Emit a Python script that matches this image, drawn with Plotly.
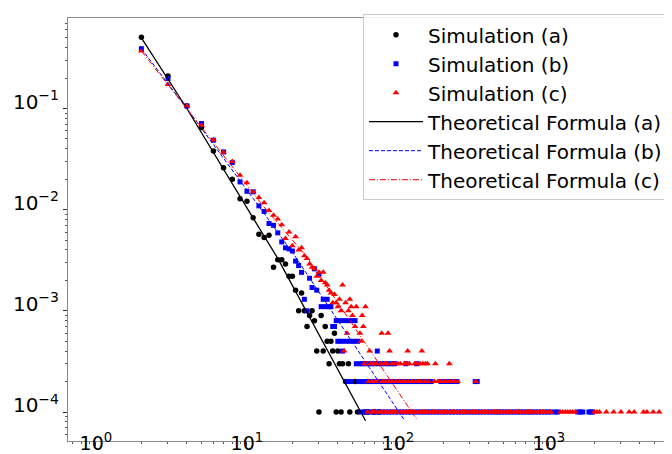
import plotly.graph_objects as go

# ---------------- data ----------------
# Simulation (a): explicit (k, P) pairs
a_k = [2, 3, 4, 5, 6, 7, 8, 9, 10, 11, 12, 13, 14, 15, 16, 17, 18, 19, 20, 21, 22, 23,
       24, 25, 26, 27, 28, 29, 30, 31, 32, 33, 34, 35, 36, 37, 38, 39, 40, 41, 42, 43,
       45, 47, 48, 52, 54, 60, 63, 70, 75]
a_p = [0.505, 0.209, 0.106, 0.065, 0.038, 0.026, 0.020, 0.0128, 0.0121, 0.0083, 0.0057,
       0.0053, 0.0056, 0.0027, 0.0032, 0.0032, 0.0029, 0.0022, 0.0022, 0.0016, 0.0010,
       0.0015, 0.0010, 0.0007, 0.0009, 0.0010, 0.0008, 0.0004, 0.0001, 0.0009, 0.0004,
       0.0007, 0.0005, 0.0003, 0.0005, 0.0004, 0.0006, 0.0001, 0.0004, 0.0003, 0.0001,
       0.0003, 0.0002, 0.0003, 0.0001, 0.0002, 0.0001, 0.0001, 0.0001, 0.0001, 0.0001]

# Simulation (b): head pairs + rows of k at constant P
b_head_k = [2, 3, 4, 5, 6, 7, 8, 9, 10, 11, 12, 13, 14, 15, 16, 17, 18, 19, 20, 21, 22,
            23, 24, 25, 26, 27, 28, 29, 30]
b_head_p = [0.39, 0.198, 0.106, 0.071, 0.0486, 0.0372, 0.0292, 0.0188, 0.0152, 0.0150,
            0.0109, 0.0096, 0.0073, 0.0070, 0.0059, 0.0048, 0.0042, 0.0041, 0.0039, 0.0031,
            0.0028, 0.0024, 0.0013, 0.0010, 0.0021, 0.0017, 0.0026, 0.0016, 0.0023]
b_rows_p = [0.0013, 0.0011, 0.0008, 0.0007, 0.0005, 0.0004, 0.0003, 0.0002, 0.0001]
b_row_13 = [32, 34]
b_row_11 = [31, 33, 35, 36]
b_row_8 = [39, 41, 44, 47, 50, 52]
b_row_7 = [37, 38]
b_row_5 = [40, 42, 45, 48, 51, 54]
b_row_4 = [43, 73]
b_row_3 = [53, 56, 58, 61, 64, 67, 70, 74, 78, 82, 86, 90, 95, 113, 133]
b_row_2 = [46, 49, 55, 59, 62, 65, 68, 72, 76, 80, 85, 89, 93, 98, 103, 108, 114, 120,
           127, 134, 141, 149, 157, 166, 193, 205, 218, 232, 246, 325, 335]
b_row_1 = [57, 60, 63, 66, 69, 71, 75, 79, 83, 87, 91, 96, 101, 106, 111, 117, 122, 128,
           135, 142, 148, 156, 163, 171, 180, 188, 198, 207, 218, 228, 240, 252, 264, 277,
           291, 305, 320, 336, 352, 369, 388, 407, 427, 446, 463, 485, 509, 534, 560, 588,
           617, 647, 679, 712, 747, 770, 810, 850, 892, 936, 982, 1030, 1100, 1143, 1552,
           1612, 1675, 1840, 1900, 1950]

# Simulation (c)
c_head_k = [2, 3, 4, 5, 6, 7, 8, 9, 10, 11, 12, 13, 14, 15, 16, 17, 18, 19, 20, 21, 22,
            23, 24, 25, 26, 27, 28, 29, 30, 31, 32, 33, 34, 35, 36, 37, 38, 39, 40, 41, 42,
            43, 45, 47, 48, 49, 53, 61]
c_head_p = [0.37, 0.173, 0.106, 0.068, 0.049, 0.037, 0.030, 0.0219, 0.0184, 0.0150, 0.0132,
            0.0117, 0.0098, 0.0088, 0.0081, 0.0071, 0.0052, 0.0060, 0.0044, 0.0054, 0.0040,
            0.0042, 0.0035, 0.0033, 0.0029, 0.0027, 0.0026, 0.0022, 0.0024, 0.0020, 0.0024,
            0.0019, 0.0018, 0.0016, 0.0015, 0.0012, 0.00145, 0.0012, 0.0011, 0.0013, 0.0010,
            0.0018, 0.0012, 0.0010, 0.0013, 0.0011, 0.0011, 0.0011]
c_rows_p = [0.0009, 0.0007, 0.0006, 0.0005, 0.0004, 0.0003, 0.0002, 0.0001]
c_row_9 = [50, 58]
c_row_7 = [52, 59]
c_row_6 = [46, 56, 78, 86]
c_row_5 = [57]
c_row_4 = [44, 65, 88, 116, 144]
c_row_3 = [60, 62, 66, 69, 72, 77, 81, 84, 91, 96, 100, 104, 111, 115, 119, 129, 134, 140,
           146, 152, 157, 177, 219]
c_row_2 = [64, 67, 71, 74, 79, 83, 87, 92, 97, 102, 107, 112, 118, 124, 131, 137, 143, 151,
           159, 175, 184, 193, 203, 213, 224, 236, 248, 328]
c_row_1 = [63, 68, 70, 73, 76, 80, 82, 85, 89, 93, 95, 99, 103, 106, 109, 113, 117, 121, 125,
           130, 135, 139, 145, 150, 156, 162, 169, 175, 182, 189, 196, 204, 212, 220, 229,
           237, 247, 256, 266, 277, 287, 298, 310, 322, 334, 347, 361, 375, 390, 405, 421,
           437, 446, 463, 481, 500, 519, 539, 560, 582, 605, 628, 653, 678, 705, 733, 760,
           770, 810, 841, 874, 908, 943, 980, 1018, 1030, 1188, 1234, 1282, 1332, 1384, 1438,
           1494, 2000, 2080, 2160, 2400, 2680, 3000, 3400, 3670, 4230, 4450, 4900, 5370]

# Theoretical formula curves
ta_k = [2, 4, 10, 16, 61]
ta_p = [0.5, 0.1, 0.0104, 0.0033, 8.2e-5]
tb_k = [2, 4, 12, 21, 111]
tb_p = [0.39, 0.1, 0.0108, 0.0034, 8.2e-5]
tc_k = [2, 4, 13, 25, 135]
tc_p = [0.37, 0.1, 0.0106, 0.0034, 8.2e-5]

x_tick_vals = [1, 10, 100, 1000]
x_tick_text = ["10<sup>0</sup>", "10<sup>1</sup>", "10<sup>2</sup>", "10<sup>3</sup>"]
y_tick_vals = [1e-4, 1e-3, 1e-2, 1e-1]
y_tick_text = ["10<sup>\u22124</sup>", "10<sup>\u22123</sup>", "10<sup>\u22122</sup>",
               "10<sup>\u22121</sup>"]

# ---------------- assemble ----------------
b_rows = [b_row_13, b_row_11, b_row_8, b_row_7, b_row_5, b_row_4, b_row_3, b_row_2, b_row_1]
b_k = list(b_head_k)
b_p = list(b_head_p)
for row, p in zip(b_rows, b_rows_p):
    b_k += row
    b_p += [p] * len(row)

c_rows = [c_row_9, c_row_7, c_row_6, c_row_5, c_row_4, c_row_3, c_row_2, c_row_1]
c_k = list(c_head_k)
c_p = list(c_head_p)
for row, p in zip(c_rows, c_rows_p):
    c_k += row
    c_p += [p] * len(row)

FONT = "DejaVu Sans"
fig = go.Figure()
fig.add_trace(go.Scatter(x=a_k, y=a_p, mode="markers", name="Simulation (a)",
                         legendgroup="1",
                         marker=dict(symbol="circle", size=5.5, color="black")))
fig.add_trace(go.Scatter(x=b_k, y=b_p, mode="markers", name="Simulation (b)",
                         legendgroup="2",
                         marker=dict(symbol="square", size=5, color="blue")))
fig.add_trace(go.Scatter(x=c_k, y=c_p, mode="markers", name="Simulation (c)",
                         legendgroup="3",
                         marker=dict(symbol="triangle-up", size=6, color="red")))
fig.add_trace(go.Scatter(x=ta_k, y=ta_p, mode="lines", name="Theoretical Formula (a)",
                         legendgroup="4", line=dict(color="black", width=1.3)))
fig.add_trace(go.Scatter(x=tb_k, y=tb_p, mode="lines", name="Theoretical Formula (b)",
                         legendgroup="5", line=dict(color="blue", width=1, dash="4px,2px")))
fig.add_trace(go.Scatter(x=tc_k, y=tc_p, mode="lines", name="Theoretical Formula (c)",
                         legendgroup="6",
                         line=dict(color="red", width=1, dash="6px,2px,1px,2px")))

minor_x = [m * 10 ** e for e in range(-1, 4) for m in range(2, 10)]
minor_y = [m * 10 ** e for e in range(-5, 0) for m in range(2, 10)]

fig.update_layout(
    width=672, height=454, autosize=False,
    margin=dict(l=60, r=0, t=10, b=21),
    paper_bgcolor="white", plot_bgcolor="white",
    font=dict(family=FONT, size=18, color="black"),
    showlegend=True,
    legend=dict(x=0.482, y=1.009, xanchor="left", yanchor="top",
                bordercolor="#cccccc", borderwidth=1, bgcolor="rgba(255,255,255,0.85)",
                font=dict(family=FONT, size=20, color="black"),
                traceorder="grouped", tracegroupgap=0, itemwidth=54),
    xaxis=dict(type="log", range=[-0.185, 3.868], tickmode="array",
               tickvals=x_tick_vals, ticktext=x_tick_text,
               ticks="outside", ticklen=4, tickwidth=0.8, tickcolor="#333",
               showline=True, linecolor="#888", linewidth=1, mirror=True,
               showgrid=False, zeroline=False, automargin=False,
               ticklabelstandoff=-19,
               tickfont=dict(family=FONT, size=19, color="black"),
               minor=dict(tickmode="array", tickvals=minor_x, ticks="outside",
                          ticklen=2, tickwidth=0.6, tickcolor="#555", showgrid=False)),
    yaxis=dict(type="log", range=[-4.2866, -0.1055], tickmode="array",
               tickvals=y_tick_vals, ticktext=y_tick_text,
               ticks="outside", ticklen=4, tickwidth=0.8, tickcolor="#333",
               showline=True, linecolor="#888", linewidth=1, mirror=False,
               showgrid=False, zeroline=False, automargin=False,
               ticklabelshift=-7,
               tickfont=dict(family=FONT, size=20, color="black"),
               minor=dict(tickmode="array", tickvals=minor_y, ticks="outside",
                          ticklen=2, tickwidth=0.6, tickcolor="#555", showgrid=False)),
)

fig.write_html("out.html")
